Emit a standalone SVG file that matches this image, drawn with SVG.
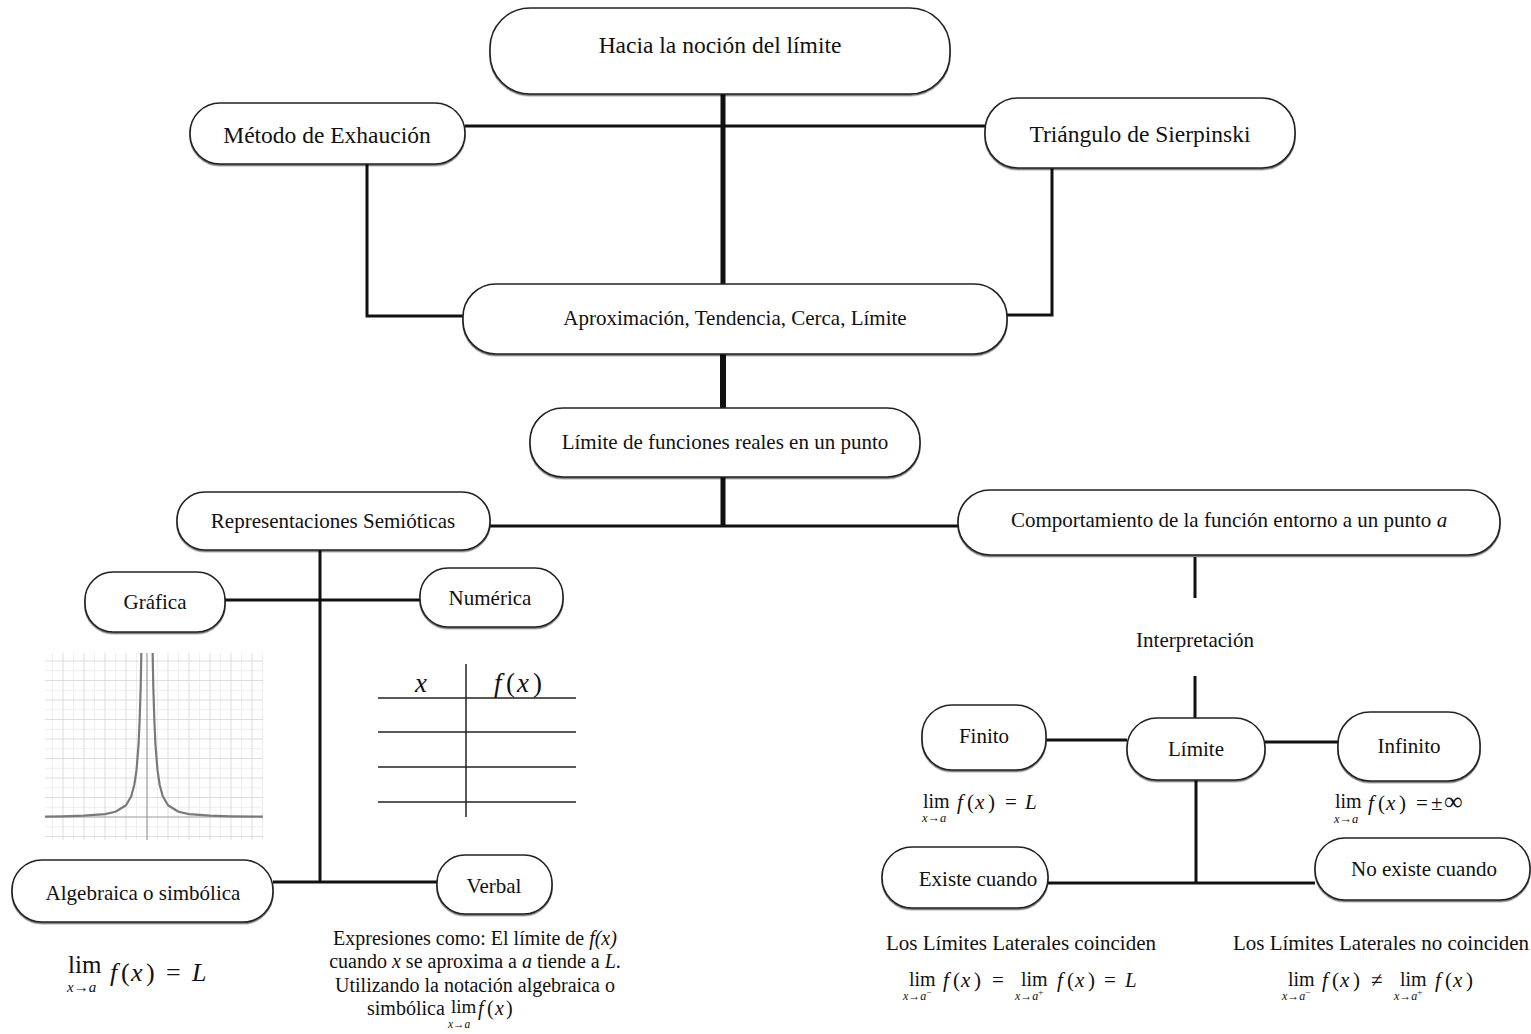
<svg xmlns="http://www.w3.org/2000/svg" width="1531" height="1034" viewBox="0 0 1531 1034">
  <defs>
    <filter id="sh" x="-5%" y="-10%" width="110%" height="130%">
      <feDropShadow dx="0" dy="1.4" stdDeviation="0.6" flood-color="#000" flood-opacity="0.55"/>
    </filter>
    <clipPath id="plotClip"><rect x="45" y="653" width="218" height="187"/></clipPath>
  </defs>
  <style>
    .node rect { fill: #fff; stroke: #222; stroke-width: 1.6; filter: url(#sh); }
    .lbl { font-family: "Liberation Serif", "Times New Roman", serif; font-size: 21px; fill: #111; text-anchor: middle; }
    .big { font-size: 23.5px; }
    .txt { font-family: "Liberation Serif", "Times New Roman", serif; font-size: 21px; fill: #111; }
    .mid { text-anchor: middle; }
    .m { font-family: "Liberation Serif", "DejaVu Serif", serif; fill: #111; }
    .i { font-style: italic; }
    .edges line, .edges polyline { stroke: #111; stroke-width: 3; fill: none; }
    .edges .trunk { stroke-width: 5; }
    .grid-minor { stroke: #eeeeee; stroke-width: 1; fill: none; }
    .grid-major { stroke: #dddddd; stroke-width: 1; fill: none; }
    .axis { stroke: #9a9a9a; stroke-width: 1.2; fill: none; }
    .curve { stroke: #7a7a7a; stroke-width: 2.2; fill: none; stroke-linejoin: round; stroke-linecap: round; }
    .table line { stroke: #222; stroke-width: 1.5; }
  </style>

  <rect width="1531" height="1034" fill="#fff"/>

  <!-- connectors -->
  <g class="edges" id="connectors">
    <line class="trunk" x1="723" y1="94" x2="723" y2="284"/>
    <line x1="465" y1="126" x2="985" y2="126"/>
    <polyline points="367,164 367,316 463,316"/>
    <polyline points="1052,168 1052,315 1007,315"/>
    <line class="trunk" x1="723" y1="354" x2="723" y2="408" style="stroke-width:6"/>
    <line class="trunk" x1="723" y1="477" x2="723" y2="527"/>
    <line x1="490" y1="526" x2="958" y2="526"/>
    <line x1="320" y1="550" x2="320" y2="883"/>
    <line x1="225" y1="600" x2="420" y2="600"/>
    <line x1="273" y1="882" x2="437" y2="882"/>
    <line x1="1195" y1="557" x2="1195" y2="598"/>
    <line x1="1195" y1="676" x2="1195" y2="718"/>
    <line x1="1046" y1="740" x2="1127" y2="740"/>
    <line x1="1265" y1="742" x2="1338" y2="742"/>
    <line x1="1196" y1="780" x2="1196" y2="884"/>
    <line x1="1048" y1="883" x2="1315" y2="883"/>
  </g>

  <!-- nodes -->
  <g class="node" id="n-hacia">
    <rect x="490" y="8" width="460" height="86" rx="40"/>
    <text class="lbl big" x="720" y="53">Hacia la noción del límite</text>
  </g>
  <g class="node" id="n-metodo">
    <rect x="190" y="103" width="275" height="61" rx="30"/>
    <text class="lbl big" x="327" y="143">Método de Exhaución</text>
  </g>
  <g class="node" id="n-sierpinski">
    <rect x="985" y="98" width="310" height="70" rx="33"/>
    <text class="lbl big" x="1140" y="142">Triángulo de Sierpinski</text>
  </g>
  <g class="node" id="n-aproximacion">
    <rect x="463" y="284" width="544" height="70" rx="33"/>
    <text class="lbl" x="735" y="325">Aproximación, Tendencia, Cerca, Límite</text>
  </g>
  <g class="node" id="n-limite-funciones">
    <rect x="530" y="408" width="390" height="69" rx="33"/>
    <text class="lbl" x="725" y="449">Límite de funciones reales en un punto</text>
  </g>
  <g class="node" id="n-representaciones">
    <rect x="177" y="492" width="313" height="58" rx="28"/>
    <text class="lbl" x="333" y="528">Representaciones Semióticas</text>
  </g>
  <g class="node" id="n-comportamiento">
    <rect x="958" y="490" width="542" height="65" rx="32"/>
    <text class="lbl" x="1229" y="527">Comportamiento de la función entorno a un punto <tspan class="i">a</tspan></text>
  </g>
  <g class="node" id="n-grafica">
    <rect x="85" y="572" width="140" height="60" rx="28"/>
    <text class="lbl" x="155" y="609">Gráfica</text>
  </g>
  <g class="node" id="n-numerica">
    <rect x="420" y="568" width="143" height="59" rx="28"/>
    <text class="lbl" x="490" y="605">Numérica</text>
  </g>
  <g class="node" id="n-algebraica">
    <rect x="12" y="860" width="261" height="62" rx="30"/>
    <text class="lbl" x="143" y="900">Algebraica o simbólica</text>
  </g>
  <g class="node" id="n-verbal">
    <rect x="437" y="855" width="115" height="59" rx="28"/>
    <text class="lbl" x="494" y="893">Verbal</text>
  </g>
  <g class="node" id="n-finito">
    <rect x="922" y="705" width="124" height="65" rx="30"/>
    <text class="lbl" x="984" y="743">Finito</text>
  </g>
  <g class="node" id="n-limite">
    <rect x="1127" y="718" width="138" height="62" rx="30"/>
    <text class="lbl" x="1196" y="756">Límite</text>
  </g>
  <g class="node" id="n-infinito">
    <rect x="1338" y="712" width="142" height="69" rx="32"/>
    <text class="lbl" x="1409" y="753">Infinito</text>
  </g>
  <g class="node" id="n-existe">
    <rect x="882" y="847" width="166" height="61" rx="30"/>
    <text class="lbl" x="978" y="886">Existe cuando</text>
  </g>
  <g class="node" id="n-no-existe">
    <rect x="1315" y="838" width="215" height="62" rx="30"/>
    <text class="lbl" x="1424" y="876">No existe cuando</text>
  </g>

  <!-- free labels -->
  <text class="txt mid" x="1195" y="647">Interpretación</text>

  <!-- graph of the function -->
  <g id="plot" clip-path="url(#plotClip)">
    <rect x="45" y="653" width="218" height="187" fill="#fff"/>
    <path class="grid-minor" d="M52.5 653V840M73.5 653V840M94.5 653V840M115.5 653V840M136.5 653V840M157.5 653V840M178.5 653V840M199.5 653V840M220.5 653V840M241.5 653V840M262.5 653V840M45 826.75H263M45 807.25H263M45 787.75H263M45 768.25H263M45 748.75H263M45 729.25H263M45 709.75H263M45 690.25H263M45 670.75H263"/>
    <path class="grid-major" d="M63 653V840M84 653V840M105 653V840M126 653V840M168 653V840M189 653V840M210 653V840M231 653V840M252 653V840M45 836.5H263M45 797.5H263M45 778H263M45 758.5H263M45 739H263M45 719.5H263M45 700H263M45 680.5H263M45 661H263"/>
    <path class="axis" d="M147 653V840M45 817H263"/>
    <polyline class="curve" points="152.6,650 153.3,687 154.4,721.5 155.4,743.9 157.5,770.2 159.6,784.5 162.75,796.2 168,805.3 178.5,811.8 189,814.1 210,815.7 231,816.3 263,816.6"/>
    <polyline class="curve" points="141.4,650 140.7,687 139.6,721.5 138.6,743.9 136.5,770.2 134.4,784.5 131.25,796.2 126,805.3 115.5,811.8 105,814.1 84,815.7 63,816.3 45,816.6"/>
  </g>

  <!-- value table -->
  <g class="table" id="table">
    <line x1="466" y1="664" x2="466" y2="817"/>
    <line x1="378" y1="698" x2="576" y2="698"/>
    <line x1="378" y1="732" x2="576" y2="732"/>
    <line x1="378" y1="767" x2="576" y2="767"/>
    <line x1="378" y1="802" x2="576" y2="802"/>
    <text class="m i" x="421" y="692" font-size="27" text-anchor="middle">x</text>
    <text class="m" y="692" font-size="27"><tspan class="i" x="494">f</tspan><tspan x="506">(</tspan><tspan class="i" x="517">x</tspan><tspan x="533">)</tspan></text>
  </g>

  <!-- algebraic notation -->
  <g id="f-algebraica" class="m">
    <text x="68" y="973" font-size="25">lim</text>
    <text x="67" y="992" font-size="15"><tspan class="i">x</tspan>→<tspan class="i">a</tspan></text>
    <text y="981" font-size="26"><tspan class="i" x="110">f</tspan><tspan x="121">(</tspan><tspan class="i" x="131">x</tspan><tspan x="146">)</tspan><tspan x="166">=</tspan><tspan class="i" x="192">L</tspan></text>
  </g>

  <!-- verbal description -->
  <g id="t-verbal" class="txt" style="font-size:20px">
    <text class="mid" x="475" y="945">Expresiones como: El límite de <tspan class="i">f(x)</tspan></text>
    <text class="mid" x="475" y="968">cuando <tspan class="i">x</tspan> se aproxima a <tspan class="i">a</tspan> tiende a <tspan class="i">L</tspan>.</text>
    <text class="mid" x="475" y="992">Utilizando la notación algebraica o</text>
    <text x="367" y="1015">simbólica</text>
    <text x="451" y="1013" font-size="19">lim</text>
    <text x="448" y="1028" font-size="11.5"><tspan class="i">x</tspan>→<tspan class="i">a</tspan></text>
    <text y="1015"><tspan class="i" x="478">f</tspan><tspan x="487">(</tspan><tspan class="i" x="495">x</tspan><tspan x="506">)</tspan></text>
  </g>

  <!-- finite limit -->
  <g id="f-finito" class="m">
    <text x="923" y="808" font-size="20">lim</text>
    <text x="922" y="822" font-size="12.5"><tspan class="i">x</tspan>→<tspan class="i">a</tspan></text>
    <text y="809" font-size="21"><tspan class="i" x="957">f</tspan><tspan x="967">(</tspan><tspan class="i" x="975">x</tspan><tspan x="988">)</tspan><tspan x="1005">=</tspan><tspan class="i" x="1025">L</tspan></text>
  </g>

  <!-- infinite limit -->
  <g id="f-infinito" class="m">
    <text x="1335" y="808" font-size="20">lim</text>
    <text x="1334" y="823" font-size="12.5"><tspan class="i">x</tspan>→<tspan class="i">a</tspan></text>
    <text y="810" font-size="21"><tspan class="i" x="1368">f</tspan><tspan x="1378">(</tspan><tspan class="i" x="1386">x</tspan><tspan x="1399">)</tspan><tspan x="1416">=</tspan><tspan x="1431">±</tspan><tspan x="1444" font-size="26">∞</tspan></text>
  </g>

  <!-- one-sided limits agree -->
  <g id="f-existe">
    <text class="txt mid" x="1021" y="950">Los Límites Laterales coinciden</text>
    <g class="m">
      <text x="909" y="986" font-size="20">lim</text>
      <text x="903" y="1000" font-size="12"><tspan class="i">x</tspan>→<tspan class="i">a</tspan><tspan font-size="9" dy="-5">−</tspan></text>
      <text y="987" font-size="21"><tspan class="i" x="943">f</tspan><tspan x="953">(</tspan><tspan class="i" x="961">x</tspan><tspan x="974">)</tspan><tspan x="992">=</tspan></text>
      <text x="1021" y="986" font-size="20">lim</text>
      <text x="1015" y="1000" font-size="12"><tspan class="i">x</tspan>→<tspan class="i">a</tspan><tspan font-size="9" dy="-5">+</tspan></text>
      <text y="987" font-size="21"><tspan class="i" x="1057">f</tspan><tspan x="1067">(</tspan><tspan class="i" x="1075">x</tspan><tspan x="1088">)</tspan><tspan x="1104">=</tspan><tspan class="i" x="1125">L</tspan></text>
    </g>
  </g>

  <!-- one-sided limits differ -->
  <g id="f-no-existe">
    <text class="txt mid" x="1381" y="950">Los Límites Laterales no coinciden</text>
    <g class="m">
      <text x="1288" y="986" font-size="20">lim</text>
      <text x="1282" y="1000" font-size="12"><tspan class="i">x</tspan>→<tspan class="i">a</tspan><tspan font-size="9" dy="-5">−</tspan></text>
      <text y="987" font-size="21"><tspan class="i" x="1322">f</tspan><tspan x="1332">(</tspan><tspan class="i" x="1340">x</tspan><tspan x="1353">)</tspan><tspan x="1371">≠</tspan></text>
      <text x="1400" y="986" font-size="20">lim</text>
      <text x="1394" y="1000" font-size="12"><tspan class="i">x</tspan>→<tspan class="i">a</tspan><tspan font-size="9" dy="-5">+</tspan></text>
      <text y="987" font-size="21"><tspan class="i" x="1435">f</tspan><tspan x="1445">(</tspan><tspan class="i" x="1453">x</tspan><tspan x="1466">)</tspan></text>
    </g>
  </g>
</svg>
